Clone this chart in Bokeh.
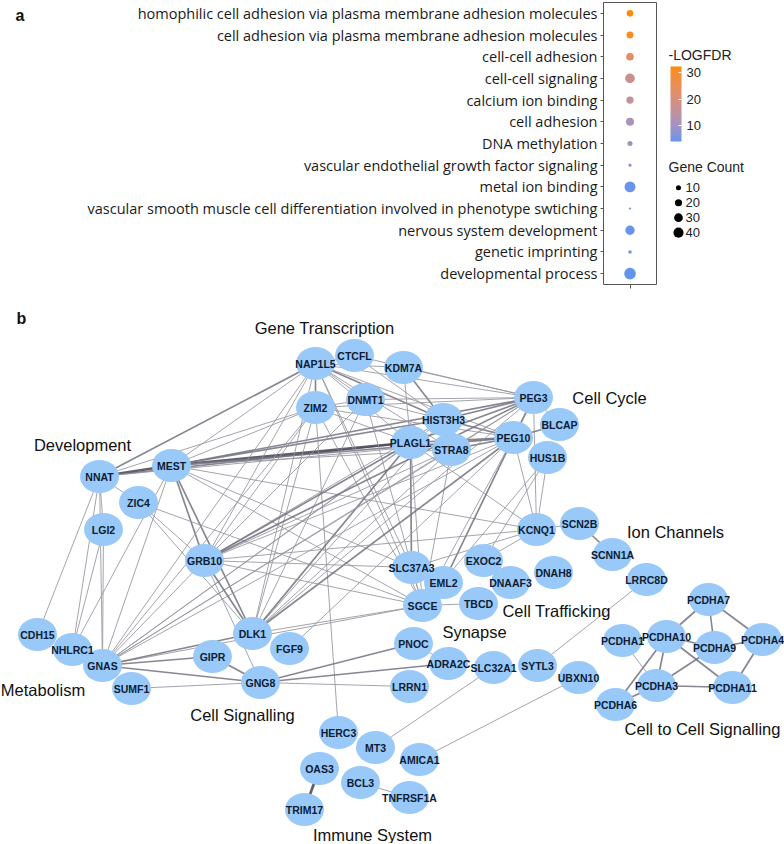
import numpy as np
from bokeh.plotting import figure
from bokeh.models import (FactorRange, Range1d, FixedTicker, ColorBar,
                          LinearColorMapper, Label, ColumnDataSource)
from bokeh.layouts import column, row
from bokeh.transform import linear_cmap
from bokeh.embed import file_html
from bokeh.resources import INLINE
from bokeh.core.properties import value

# ---------------- panel a data ----------------
terms = [
    "homophilic cell adhesion via plasma membrane adhesion molecules",
    "cell adhesion via plasma membrane adhesion molecules",
    "cell-cell adhesion",
    "cell-cell signaling",
    "calcium ion binding",
    "cell adhesion",
    "DNA methylation",
    "vascular endothelial growth factor signaling",
    "metal ion binding",
    "vascular smooth muscle cell differentiation involved in phenotype swtiching",
    "nervous system development",
    "genetic imprinting",
    "developmental process",
]
neg_log_fdr = [32.3, 30.8, 23.5, 17.0, 15.5, 11.5, 8.5, 6.5, 4.5, 5.0, 4.3, 5.0, 4.0]
gene_count = [17, 19, 23, 37, 21, 25, 10, 4, 47, 2, 34, 5, 53]
legend_counts = [10, 20, 30, 40]
colorbar_ticks = [10, 20, 30]
fdr_low, fdr_high = 4.0, 32.3

# ---------------- panel b data ----------------
node_names = ["NAP1L5", "CTCFL", "KDM7A", "ZIM2", "DNMT1", "HIST3H3", "PLAGL1",
              "STRA8", "PEG3", "BLCAP", "PEG10", "HUS1B", "NNAT", "MEST", "ZIC4",
              "LGI2", "GRB10", "KCNQ1", "SCN2B", "SCNN1A", "SLC37A3", "EXOC2",
              "DNAH8", "DNAAF3", "EML2", "SGCE", "TBCD", "LRRC8D", "CDH15",
              "NHLRC1", "GNAS", "SUMF1", "DLK1", "FGF9", "GIPR", "GNG8", "PNOC",
              "ADRA2C", "SLC32A1", "SYTL3", "UBXN10", "LRRN1", "HERC3", "MT3",
              "AMICA1", "OAS3", "BCL3", "TRIM17", "TNFRSF1A", "PCDHA7", "PCDHA1",
              "PCDHA10", "PCDHA9", "PCDHA4", "PCDHA3", "PCDHA11", "PCDHA6"]
# network layout coordinates
layout_x = [315, 354, 403, 315, 365, 443, 410, 451, 533, 559, 513, 547, 99, 171, 138,
            103, 204, 536, 579, 612, 411, 483, 553, 510, 443, 422, 478, 646, 37,
            72, 102, 131, 252, 289, 212, 260, 413, 448, 493, 537, 578, 409, 338, 375,
            419, 319, 360, 304, 409, 708, 622, 666, 714, 762, 656, 732, 615]
layout_y = [363, 355, 367, 407, 399, 419, 442, 449, 397, 424, 437, 457, 476, 465, 502,
            529, 560, 529, 523, 554, 567, 560, 572, 582, 582, 605, 603, 579, 634,
            649, 665, 688, 633, 648, 656, 682, 643, 663, 667, 665, 677, 686, 732, 747,
            759, 768, 782, 809, 797, 599, 640, 636, 647, 639, 685, 687, 704]

edge_src = []
edge_dst = []
edge_weight = []
_edges = """
NNAT MEST 3; NNAT NAP1L5 2; NNAT ZIC4 1; NNAT LGI2 1; NNAT CDH15 1; NNAT NHLRC1 1;
NNAT GNAS 1; NNAT PLAGL1 2; NNAT PEG10 1; NNAT ZIM2 1;
MEST PLAGL1 3; MEST PEG3 2; MEST PEG10 2; MEST HIST3H3 2; MEST STRA8 1; MEST ZIM2 1;
MEST NAP1L5 1; MEST GRB10 2; MEST DLK1 2; MEST GNAS 1; MEST SGCE 1; MEST KCNQ1 1;
MEST SLC37A3 1; MEST NHLRC1 1;
ZIC4 GRB10 1; ZIC4 SGCE 1; ZIC4 DLK1 1; LGI2 NHLRC1 1; LGI2 GNAS 1;
NAP1L5 CTCFL 1; NAP1L5 ZIM2 2; NAP1L5 DNMT1 1; NAP1L5 KDM7A 1; NAP1L5 HIST3H3 2;
NAP1L5 PLAGL1 1; NAP1L5 STRA8 1; NAP1L5 PEG3 1; NAP1L5 PEG10 1; NAP1L5 GRB10 1;
NAP1L5 DLK1 1; NAP1L5 GNAS 1; NAP1L5 SGCE 1; NAP1L5 SLC37A3 1;
CTCFL PEG3 1; CTCFL HIST3H3 1; KDM7A HIST3H3 2; KDM7A PEG3 1; KDM7A PLAGL1 1;
ZIM2 DNMT1 1; ZIM2 PLAGL1 1; ZIM2 PEG3 1; ZIM2 PEG10 1; ZIM2 GRB10 1; ZIM2 DLK1 1;
ZIM2 GNAS 1; ZIM2 SGCE 1; ZIM2 HERC3 1;
DNMT1 HIST3H3 1; DNMT1 PEG3 1; DNMT1 GRB10 1; DNMT1 DLK1 1; DNMT1 SGCE 1;
HIST3H3 PEG3 2; HIST3H3 PEG10 2; HIST3H3 STRA8 1; HIST3H3 GRB10 1; HIST3H3 DLK1 1;
HIST3H3 GNAS 1;
PLAGL1 PEG3 2; PLAGL1 PEG10 2; PLAGL1 STRA8 1; PLAGL1 SLC37A3 2; PLAGL1 SGCE 1;
PLAGL1 GRB10 2; PLAGL1 DLK1 2; PLAGL1 GNAS 1; PLAGL1 KCNQ1 1;
STRA8 PEG3 1; STRA8 PEG10 2; STRA8 GRB10 1; STRA8 DLK1 1; STRA8 GNAS 1; STRA8 SGCE 1;
PEG3 PEG10 2; PEG3 BLCAP 1; PEG3 GRB10 2; PEG3 DLK1 1; PEG3 GNAS 1; PEG3 KCNQ1 1;
PEG10 BLCAP 2; PEG10 KCNQ1 1; PEG10 EML2 2; PEG10 GRB10 1; PEG10 DLK1 2; PEG10 GNAS 1;
PEG10 SGCE 1; PEG10 FGF9 1;
HUS1B KCNQ1 1; HUS1B EXOC2 1; HUS1B SGCE 1;
KCNQ1 SCN2B 1; KCNQ1 EXOC2 1; KCNQ1 SLC37A3 1; KCNQ1 GRB10 1; SCN2B SCNN1A 2;
GRB10 DLK1 2; GRB10 GNAS 1; GRB10 SGCE 1; GRB10 SLC37A3 1; GRB10 GNG8 1;
SGCE TBCD 1; SGCE EML2 1; SGCE SLC37A3 1; SGCE DLK1 1; SGCE GNAS 1; SLC37A3 EML2 1;
DLK1 GNAS 2; GNAS GIPR 2; GNAS GNG8 2; GIPR GNG8 2; SUMF1 GNG8 1; GNG8 LRRN1 1;
GNG8 PNOC 2; GNG8 ADRA2C 2; PNOC ADRA2C 1;
MT3 SLC32A1 1; AMICA1 UBXN10 1; SYTL3 LRRC8D 1; OAS3 TRIM17 3; BCL3 TNFRSF1A 1;
PCDHA7 PCDHA10 2; PCDHA7 PCDHA9 2; PCDHA7 PCDHA4 2; PCDHA10 PCDHA9 2; PCDHA9 PCDHA4 2;
PCDHA4 PCDHA11 2; PCDHA10 PCDHA11 2; PCDHA10 PCDHA3 2; PCDHA10 PCDHA6 2;
PCDHA9 PCDHA3 2; PCDHA3 PCDHA11 2; PCDHA3 PCDHA6 2; PCDHA1 PCDHA3 1; PCDHA1 PCDHA10 1
"""
for item in _edges.replace("\n", " ").split(";"):
    parts = item.split()
    if len(parts) == 3:
        edge_src.append(parts[0])
        edge_dst.append(parts[1])
        edge_weight.append(int(parts[2]))

group_names = ["Gene Transcription", "Cell Cycle", "Development", "Ion Channels",
               "Cell Trafficking", "Synapse", "Metabolism", "Cell Signalling",
               "Cell to Cell Signalling", "Immune System"]
group_x = [324, 609, 82, 675, 556, 474, 42.5, 242, 702, 372]
group_y = [327, 397, 444, 531, 610, 631, 689, 714, 728, 834]

# ---------------- colour palette (Lab interpolation) ----------------
def _hex2rgb(h):
    h = h.lstrip("#")
    return np.array([int(h[i:i + 2], 16) for i in (0, 2, 4)]) / 255.0

def _rgb2lab(rgb):
    c = np.where(rgb > 0.04045, ((rgb + 0.055) / 1.055) ** 2.4, rgb / 12.92)
    M = np.array([[0.4124, 0.3576, 0.1805], [0.2126, 0.7152, 0.0722], [0.0193, 0.1192, 0.9505]])
    xyz = M @ c / np.array([0.95047, 1.0, 1.08883])
    f = np.where(xyz > 0.008856, np.cbrt(xyz), 7.787 * xyz + 16 / 116)
    return np.array([116 * f[1] - 16, 500 * (f[0] - f[1]), 200 * (f[1] - f[2])])

def _lab2hex(lab):
    fy = (lab[0] + 16) / 116
    fx = fy + lab[1] / 500
    fz = fy - lab[2] / 200
    f = np.array([fx, fy, fz])
    xyz = np.where(f ** 3 > 0.008856, f ** 3, (f - 16 / 116) / 7.787) * np.array([0.95047, 1.0, 1.08883])
    Minv = np.array([[3.2406, -1.5372, -0.4986], [-0.9689, 1.8758, 0.0415], [0.0557, -0.2040, 1.0570]])
    c = Minv @ xyz
    c = np.where(c > 0.0031308, 1.055 * np.clip(c, 0, None) ** (1 / 2.4) - 0.055, 12.92 * c)
    c = np.clip(np.round(c * 255), 0, 255).astype(int)
    return "#%02x%02x%02x" % tuple(c)

low_lab = _rgb2lab(_hex2rgb("#6495ED"))
high_lab = _rgb2lab(_hex2rgb("#FF8C00"))
palette = [_lab2hex(low_lab + (high_lab - low_lab) * t) for t in np.linspace(0, 1, 256)]

LABEL_FONT = "Open Sans"
SANS = "Liberation Sans"
TOP_H = 292
BT, BB = 2, 7   # frame borders of the top row

# ---------------- panel label "a" ----------------
p_a = figure(width=40, height=TOP_H, x_range=Range1d(0, 40), y_range=Range1d(0, 1),
             output_backend="svg", toolbar_location=None, x_axis_type=None,
             y_axis_type=None, min_border_left=0, min_border_right=0,
             min_border_top=BT, min_border_bottom=BB)
p_a.outline_line_color = None
p_a.grid.visible = False
p_a.add_layout(Label(x=15, y=TOP_H - BB - BT - 14, x_units="screen", y_units="screen",
                     text="a", text_font=SANS, text_font_style="bold",
                     text_font_size="16px", text_baseline="middle",
                     text_color="#111111"))

# ---------------- panel a ----------------
src_a = ColumnDataSource(dict(term=terms, fdr=neg_log_fdr, count=gene_count,
                              x=[1] * len(terms),
                              size=[1.6 * np.sqrt(c) for c in gene_count]))

p1 = figure(width=628, height=TOP_H, y_range=FactorRange(factors=list(reversed(terms))),
            x_range=Range1d(0.5, 1.5), output_backend="svg", toolbar_location=None,
            min_border_left=563, min_border_right=12, min_border_top=BT,
            min_border_bottom=BB)
p1.scatter("x", "term", size="size", source=src_a, line_color=None,
           fill_color=linear_cmap("fdr", palette, fdr_low, fdr_high))
p1.xgrid.visible = False
p1.ygrid.visible = False
p1.outline_line_color = "#555555"
p1.outline_line_width = 1
p1.yaxis.major_label_text_font = LABEL_FONT
p1.yaxis.major_label_text_font_size = "14.5px"
p1.yaxis.major_label_text_color = "#1a1a1a"
p1.yaxis.axis_line_color = None
p1.yaxis.major_tick_line_color = "#555555"
p1.yaxis.major_tick_out = 3
p1.yaxis.major_tick_in = 0
p1.yaxis.major_label_standoff = 3
p1.xaxis.ticker = FixedTicker(ticks=[1])
p1.xaxis.major_label_overrides = {1: " "}
p1.xaxis.major_label_text_font_size = "1px"
p1.xaxis.major_label_standoff = 0
p1.xaxis.axis_line_color = None
p1.xaxis.minor_tick_line_color = None
p1.xaxis.major_tick_line_color = "#555555"
p1.xaxis.major_tick_out = 4
p1.xaxis.major_tick_in = 0

# ---------------- legends (colour bar + size) ----------------
LEG_FH = TOP_H - BT - BB   # legend frame height
p_leg = figure(width=116, height=TOP_H, x_range=Range1d(0, 116),
               y_range=Range1d(-114 + LEG_FH / 1.5, -114), output_backend="svg",
               toolbar_location=None, x_axis_type=None, y_axis_type=None,
               min_border_left=0, min_border_right=0, min_border_top=BT,
               min_border_bottom=BB)
p_leg.outline_line_color = None
p_leg.grid.visible = False
src_leg = ColumnDataSource(dict(v=legend_counts, lab=[str(v) for v in legend_counts],
                                size=[1.6 * np.sqrt(v) for v in legend_counts]))
p_leg.scatter(x=10, y="v", size="size", source=src_leg, fill_color="black",
              line_color=None)
p_leg.text(x=17, y="v", text="lab", source=src_leg, text_font=value(SANS),
           text_font_size="13px", text_baseline="middle", text_color="#222222")
p_leg.add_layout(Label(x=0, y=LEG_FH + BT - 167, x_units="screen", y_units="screen",
                       text="Gene Count", text_font=SANS, text_font_size="14px",
                       text_baseline="middle", text_color="#222222"))
p_leg.add_layout(Label(x=0, y=LEG_FH + BT - 55, x_units="screen", y_units="screen",
                       text="-LOGFDR", text_font=SANS, text_font_size="14px",
                       text_baseline="middle", text_color="#222222"))
mapper = LinearColorMapper(palette=palette, low=fdr_low, high=fdr_high)
cbar = ColorBar(color_mapper=mapper, ticker=FixedTicker(ticks=colorbar_ticks),
                location=(2, LEG_FH + BT - 142), width=11, height=75, padding=0,
                margin=0, major_label_text_font=SANS,
                major_label_text_font_size="13px", major_label_text_color="#222222",
                label_standoff=5, major_tick_line_color="white", major_tick_in=3,
                major_tick_out=0, minor_tick_line_color=None, bar_line_color=None,
                background_fill_color=None, border_line_color=None)
p_leg.add_layout(cbar, "center")

# ---------------- panel b ----------------
pos = {n: (x, y) for n, x, y in zip(node_names, layout_x, layout_y)}
w_width = {1: 1.0, 2: 1.7, 3: 2.7}
w_color = {1: "#94949f", 2: "#727280", 3: "#434353"}
src_e = ColumnDataSource(dict(
    x0=[pos[s][0] for s in edge_src], y0=[pos[s][1] for s in edge_src],
    x1=[pos[d][0] for d in edge_dst], y1=[pos[d][1] for d in edge_dst],
    lw=[w_width[w] for w in edge_weight], lc=[w_color[w] for w in edge_weight]))

B_H = 551
p2 = figure(width=784, height=B_H, x_range=Range1d(0, 784),
            y_range=Range1d(TOP_H + B_H, TOP_H), output_backend="svg",
            toolbar_location=None, x_axis_type=None, y_axis_type=None, min_border=0)
p2.outline_line_color = None
p2.grid.visible = False
p2.segment("x0", "y0", "x1", "y1", source=src_e, line_width="lw", line_color="lc",
           line_alpha=0.85)
src_n = ColumnDataSource(dict(x=layout_x, y=layout_y, name=node_names))
p2.ellipse("x", "y", width=39, height=33, source=src_n, fill_color="#99c9f9",
           line_color=None)
p2.text("x", "y", text="name", source=src_n, text_font=value(SANS),
        text_font_style="bold", text_font_size="10.5px", text_align="center",
        text_baseline="middle", text_color="#0d1b33")
src_g = ColumnDataSource(dict(x=group_x, y=group_y, name=group_names))
p2.text("x", "y", text="name", source=src_g, text_font=value(SANS),
        text_font_size="16.5px", text_align="center", text_baseline="middle",
        text_color="#111111")
p2.text(x=[21], y=[318], text=["b"], text_font=value(SANS), text_font_style="bold",
        text_font_size="16px", text_align="center", text_baseline="middle",
        text_color="#111111")

layout = column(row(p_a, p1, p_leg), p2)
open("out.html", "w").write(file_html(layout, INLINE))
